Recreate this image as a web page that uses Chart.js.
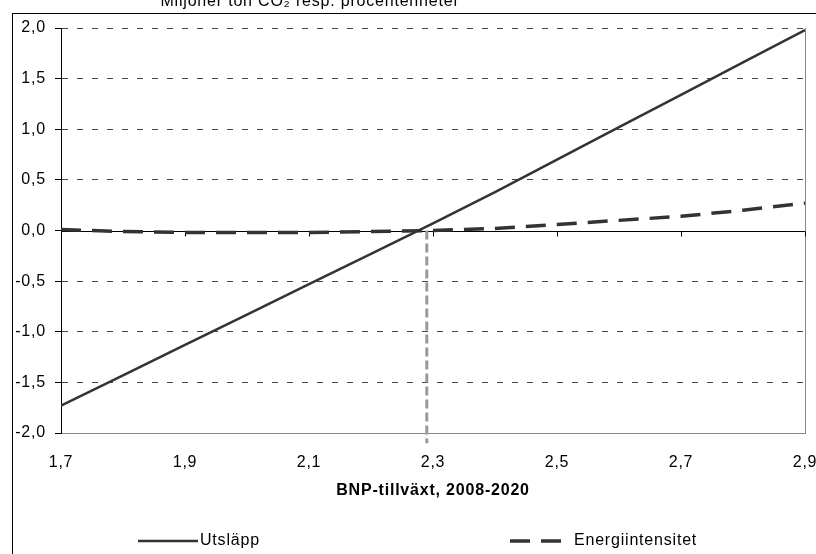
<!DOCTYPE html>
<html>
<head>
<meta charset="utf-8">
<script src="https://cdn.jsdelivr.net/npm/chart.js@4"></script>
<style>
  html, body { margin: 0; padding: 0; overflow: hidden; background: #fff; }
  #wrap { position: absolute; left: 0; top: 0; }
</style>
</head>
<body>
<div id="wrap"><canvas id="chartBnp" width="840" height="580"></canvas></div>
<script>
// BNP-tillväxt (x) och effekt på utsläpp resp. energiintensitet
const bnpTillvaxt = [1.7, 1.8, 1.9, 2.0, 2.1, 2.2, 2.3, 2.4, 2.5, 2.6, 2.7, 2.8, 2.9];
const utslapp = [-1.73, -1.43, -1.13, -0.83, -0.53, -0.23, 0.07, 0.38, 0.70, 1.02, 1.34, 1.66, 1.98];
const energiintensitet = [0.01, -0.01, -0.02, -0.02, -0.02, -0.01, 0.0, 0.02, 0.06, 0.10, 0.14, 0.20, 0.27];
// lodrät markering där utsläppen är oförändrade
const gransX = [2.29, 2.29];
const gransY = [0, -2.1];

const seriesNames = ['Utsläpp', 'Energiintensitet'];
const yAxisTitle = 'Miljoner ton CO₂ resp. procentenheter';
const xAxisTitle = 'BNP-tillväxt, 2008-2020';

const toPoints = (xs, ys) => xs.map((x, i) => ({ x: x, y: ys[i] }));
const komma = v => Number(v).toFixed(1).replace('.', ',');
const FONT = 'Liberation Sans, Arial, sans-serif';
const SIZE = 16;

// ram runt diagrammet + axeltitel överst
const framePlugin = {
  id: 'frame',
  beforeDraw(chart) {
    const c = chart.ctx;
    c.letterSpacing = '0.8px'; // texten i förlagan är lite utdragen
    c.save();
    c.fillStyle = '#fff';
    c.fillRect(0, 0, chart.width, chart.height);
    c.strokeStyle = '#000';
    c.lineWidth = 1;
    c.strokeRect(12.5, 13.5, 900, 700);
    c.fillStyle = '#000';
    c.font = SIZE + 'px ' + FONT;
    c.textAlign = 'center';
    c.textBaseline = 'alphabetic';
    c.fillText(yAxisTitle, 310, 6);
    c.restore();
  }
};

// nollinjen med skalstreck
const zeroAxisPlugin = {
  id: 'zeroAxis',
  beforeDatasetsDraw(chart) {
    const { ctx: c, chartArea: a, scales: { x, y } } = chart;
    const y0 = Math.round(y.getPixelForValue(0)) + 0.5;
    c.save();
    c.strokeStyle = '#000';
    c.lineWidth = 1;
    c.beginPath();
    c.moveTo(a.left, y0);
    c.lineTo(a.right, y0);
    x.ticks.forEach(t => {
      const px = Math.round(x.getPixelForValue(t.value)) + 0.5;
      c.moveTo(px, y0);
      c.lineTo(px, y0 + 5);
    });
    c.stroke();
    c.restore();
  }
};

// förklaring i Excel-stil
const legendPlugin = {
  id: 'excelLegend',
  afterDraw(chart) {
    const c = chart.ctx;
    const items = [
      { ds: chart.data.datasets[0], x: 138, w: 60, gap: 2 },
      { ds: chart.data.datasets[1], x: 510, w: 52, gap: 12 }
    ];
    const ly = 541;
    c.save();
    c.font = SIZE + 'px ' + FONT;
    c.textBaseline = 'middle';
    c.textAlign = 'left';
    items.forEach(it => {
      c.strokeStyle = it.ds.borderColor;
      c.lineWidth = it.ds.borderWidth;
      c.setLineDash(it.ds.borderDash || []);
      c.beginPath();
      c.moveTo(it.x, ly);
      c.lineTo(it.x + it.w, ly);
      c.stroke();
      c.setLineDash([]);
      c.fillStyle = '#000';
      c.fillText(it.ds.label, it.x + it.w + it.gap, ly);
    });
    c.restore();
  }
};

new Chart(document.getElementById('chartBnp'), {
  type: 'line',
  data: {
    datasets: [
      {
        label: seriesNames[0],
        data: toPoints(bnpTillvaxt, utslapp),
        borderColor: '#333333',
        borderWidth: 2.5,
        pointRadius: 0,
        tension: 0
      },
      {
        label: seriesNames[1],
        data: toPoints(bnpTillvaxt, energiintensitet),
        borderColor: '#333333',
        borderWidth: 3.5,
        borderDash: [20, 11],
        pointRadius: 0,
        tension: 0
      },
      {
        label: 'gräns',
        data: toPoints(gransX, gransY),
        borderColor: '#999999',
        borderWidth: 3,
        borderDash: [9, 4],
        pointRadius: 0,
        clip: false
      }
    ]
  },
  options: {
    responsive: false,
    animation: false,
    layout: { padding: { left: 12, right: 35, top: 28, bottom: 57 } },
    plugins: {
      legend: { display: false },
      tooltip: { enabled: false }
    },
    scales: {
      x: {
        type: 'linear',
        min: 1.7,
        max: 2.9,
        afterFit: s => { s.height = 90; },
        ticks: {
          stepSize: 0.2,
          padding: 20,
          color: '#000',
          font: { family: FONT, size: SIZE },
          callback: v => komma(v)
        },
        grid: {
          drawTicks: false,
          color: c => (c.tick && Math.abs(c.tick.value - 2.9) < 1e-6) ? '#888888' : 'rgba(0,0,0,0)'
        },
        border: { color: '#888888', width: 1 },
        title: {
          display: true,
          text: xAxisTitle,
          color: '#000',
          font: { family: FONT, size: SIZE, weight: 'bold' },
          padding: { top: 0, bottom: 23 }
        }
      },
      y: {
        min: -2,
        max: 2,
        afterFit: s => { s.width = 49; },
        ticks: {
          stepSize: 0.5,
          padding: 9,
          color: '#000',
          font: { family: FONT, size: SIZE },
          callback: v => komma(v)
        },
        grid: {
          tickLength: 6,
          tickColor: '#000',
          tickBorderDash: [],
          color: c => {
            const v = c.tick ? c.tick.value : null;
            if (v === 0) return 'rgba(0,0,0,0)';
            if (v === -2) return '#888888';
            return '#444444';
          }
        },
        border: { color: '#000', width: 1, dash: c => (c.tick && c.tick.value === -2) ? [] : [6, 9] }
      }
    }
  },
  plugins: [framePlugin, zeroAxisPlugin, legendPlugin]
});
</script>
</body>
</html>
